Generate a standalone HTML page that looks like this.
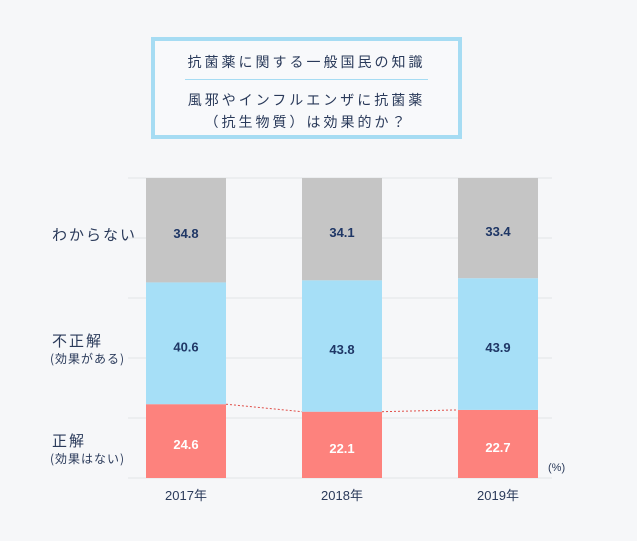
<!DOCTYPE html>
<html><head><meta charset="utf-8"><style>
body{margin:0;background:#f6f7f9;font-family:"Liberation Sans","Noto Sans CJK JP",sans-serif;}
#wrap{position:relative;width:637px;height:541px;overflow:hidden;background:#f6f7f9;}
.tb{position:absolute;left:151px;top:37px;width:303px;height:94px;border:4px solid #a6dcf3;background:#f8f9fb;}
.tb div{position:absolute;left:0;width:100%;text-align:center;color:#2a3a5a;font-size:14px;letter-spacing:3px;}
.lbl{position:absolute;color:#2a3a5a;font-family:"Noto Sans CJK JP",sans-serif;}
</style></head><body>
<div id="wrap">
<div class="tb">
<div style="top:11px">抗菌薬に関する一般国民の知識</div>
<div style="top:38px;left:10%;width:80%;height:1px;background:#a6dcf3"></div>
<div style="top:49px">風邪やインフルエンザに抗菌薬</div>
<div style="top:71px">（抗生物質）は効果的か？</div>
</div>
<div class="lbl" style="left:52px;top:224px;font-size:15px;letter-spacing:2px">わからない</div>
<div class="lbl" style="left:52px;top:330px;font-size:15px;letter-spacing:2px">不正解</div>
<div class="lbl" style="left:50px;top:350px;font-size:12px;letter-spacing:1px">(効果がある)</div>
<div class="lbl" style="left:52px;top:430px;font-size:15px;letter-spacing:2px">正解</div>
<div class="lbl" style="left:50px;top:450px;font-size:12px;letter-spacing:1px">(効果はない)</div>
<svg id="svg" width="637" height="541" style="position:absolute;left:0;top:0"></svg>
</div>
<script>
const years=["2017年","2018年","2019年"];
const correct=[24.6,22.1,22.7];
const incorrect=[40.6,43.8,43.9];
const unknown=[34.8,34.1,33.4];
const ticks=[0,20,40,60,80,100];
const svg=document.getElementById('svg');
const NS='http://www.w3.org/2000/svg';
const y0=478,ph=300,x0=146,step=156,bw=80;
const Y=v=>y0-v/100*ph;
const X=i=>x0+i*step;
function mk(t,a){const e=document.createElementNS(NS,t);for(const k in a)e.setAttribute(k,a[k]);svg.appendChild(e);return e;}
ticks.forEach(t=>{const l=mk('line',{x1:128,x2:552,y1:Y(t),y2:Y(t),stroke:'#e2e4e8','stroke-width':1});

});
const series=[[correct,'#fd827d','#ffffff','correct'],[incorrect,'#a6dff7','#1f3766','incorrect'],[unknown,'#c5c5c5','#1f3766','unknown']];
years.forEach((yr,i)=>{
 let base=0;
 series.forEach(([arr,fill,tc,nm])=>{
  const v=arr[i];
  const r=mk('rect',{x:X(i),y:Y(base+v),width:bw,height:Y(base)-Y(base+v),fill:fill});
  
  
  const t=mk('text',{x:X(i)+bw/2,y:(Y(base)+Y(base+v))/2+8,'text-anchor':'middle','font-size':13,'font-weight':'bold',fill:tc,'font-family':'Liberation Sans, sans-serif'});
  t.textContent=v.toFixed(1);
  
  
  base+=v;
 });
 const t=mk('text',{x:X(i)+bw/2,y:500,'text-anchor':'middle','font-size':13,fill:'#2a3a5a','font-family':'Liberation Sans, Noto Sans CJK JP, sans-serif'});
 t.textContent=yr;
 
 
 if(i<years.length-1){
  const l=mk('line',{x1:X(i)+bw,y1:Y(correct[i]),x2:X(i+1),y2:Y(correct[i+1]),stroke:'#e0504a','stroke-width':1,'stroke-dasharray':'2,2'});
  
  
 }
});
const u=mk('text',{x:548,y:471,'font-size':11,fill:'#2a3a5a','font-family':'Liberation Sans, sans-serif'});
u.textContent='(%)';


</script>
</body></html>
